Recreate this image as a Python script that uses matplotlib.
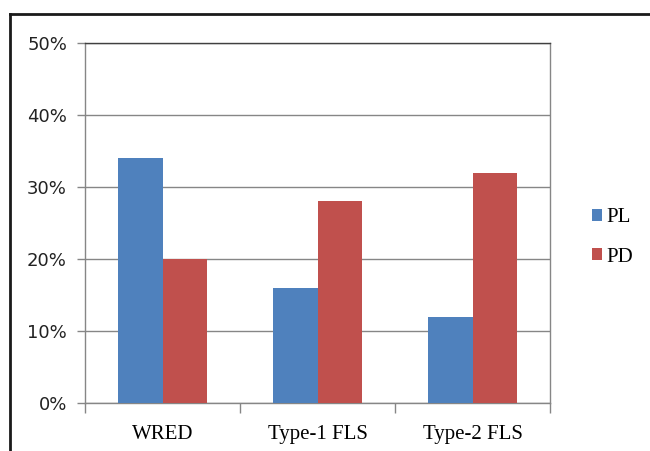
import numpy as np
import matplotlib.pyplot as plt
from matplotlib.lines import Line2D
from matplotlib.ticker import PercentFormatter

# Packet loss / packet delay per queue scheme
categories = ['WRED', 'Type-1 FLS', 'Type-2 FLS']
pl_values = [34, 16, 12]
pd_values = [20, 28, 32]
y_ticks = [0, 10, 20, 30, 40, 50]

blue = '#4F81BD'
red = '#C0504D'
grid_gray = '#868686'

fig = plt.figure(figsize=(6.5, 4.51), dpi=100)
ax = fig.add_axes([85 / 650, 1 - 403 / 451, 465 / 650, 360 / 451])

x = np.arange(len(categories))
w = 0.287
ax.bar(x - w / 2, pl_values, w, color=blue, label='PL', zorder=3)
ax.bar(x + w / 2, pd_values, w, color=red, label='PD', zorder=3)

ax.set_xlim(-0.5, 2.5)
ax.set_ylim(0, 50)
ax.set_yticks(y_ticks)
ax.yaxis.set_major_formatter(PercentFormatter(decimals=0))
ax.yaxis.grid(True, color=grid_gray, linewidth=1, zorder=0)

# category labels centred, tick marks on the boundaries
ax.set_xticks(x)
ax.set_xticklabels(categories, family='Liberation Serif', fontsize=15)
ax.set_xticks(np.arange(-0.5, 3, 1), minor=True)
ax.tick_params(axis='x', which='major', length=0, pad=16)
ax.tick_params(axis='x', which='minor', length=7, color=grid_gray, width=1)
ax.tick_params(axis='y', length=6, color=grid_gray, width=1, pad=7,
               labelsize=13, labelcolor='#222222')
for lab in ax.get_yticklabels():
    lab.set_family('DejaVu Sans')

for side in ['left', 'bottom', 'right']:
    ax.spines[side].set_color(grid_gray)
    ax.spines[side].set_linewidth(1)
ax.spines['top'].set_color('#404040')
ax.spines['top'].set_linewidth(1)

leg = ax.legend(loc='center left', bbox_to_anchor=(1.05, 0.46), frameon=False,
                prop={'family': 'Liberation Serif', 'size': 15},
                handlelength=0.5, handleheight=0.5, handletextpad=0.2,
                labelspacing=1.0)

# outer chart frame (top and left edges)
fig.add_artist(Line2D([10 / 650, 10 / 650], [0, 1 - 14 / 451],
                      transform=fig.transFigure, color='#1a1a1a', linewidth=2))
fig.add_artist(Line2D([10 / 650, 1], [1 - 14 / 451, 1 - 14 / 451],
                      transform=fig.transFigure, color='#1a1a1a', linewidth=2))

fig.savefig('out.png', dpi=100)
plt.close(fig)
